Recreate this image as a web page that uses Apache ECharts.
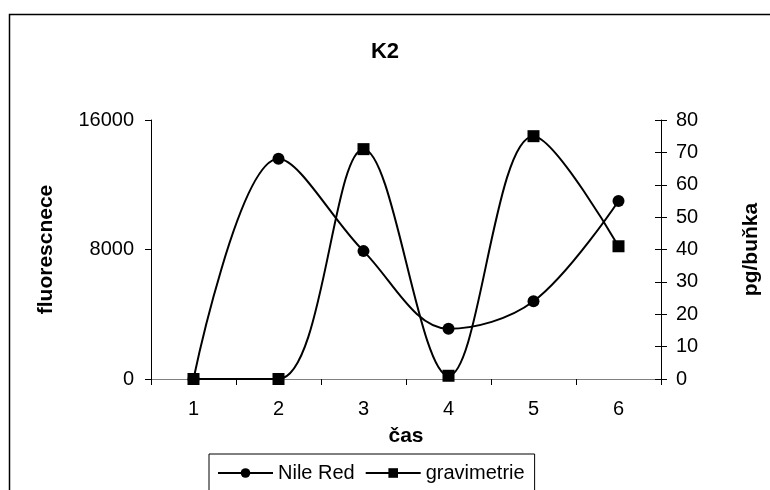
<!DOCTYPE html>
<html>
<head>
<meta charset="utf-8">
<script src="https://cdn.jsdelivr.net/npm/echarts@6/dist/echarts.min.js"></script>
<style>html,body{margin:0;padding:0;background:#fff}#c{width:770px;height:490px}</style>
</head>
<body>
<div id="c"></div>
<script>
var categories = ['1', '2', '3', '4', '5', '6'];
var nileRed = [0, 13600, 7900, 3100, 4800, 11000];
var gravimetrie = [0, 0, 71, 1, 75, 41];
var leftTicks = { min: 0, max: 16000, interval: 8000 };
var rightTicks = { min: 0, max: 80, interval: 10 };

var FONT = 'Liberation Sans, Arial, sans-serif';
var plain = function (v) { return String(v); };
var chart = echarts.init(document.getElementById('c'), null, { renderer: 'canvas' });
chart.setOption({
  animation: false,
  backgroundColor: '#fff',
  textStyle: { fontFamily: FONT, color: '#000' },
  title: {
    text: 'K2', left: 'center', top: 36,
    textStyle: { fontFamily: FONT, fontSize: 22, fontWeight: 'bold', color: '#000' }
  },
  graphic: [{
    type: 'rect', left: 7, top: 12, z: -1,
    shape: { width: 800, height: 520 },
    style: { fill: 'none', stroke: '#000', lineWidth: 1.5 }
  }],
  grid: { left: 151, right: 102, top: 120, bottom: 111, containLabel: false },
  legend: {
    left: 209, top: 454,
    orient: 'horizontal',
    borderColor: '#000', borderWidth: 1,
    padding: [9, 10, 30, 8],
    itemGap: 10, itemWidth: 55, itemHeight: 12,
    textStyle: { fontFamily: FONT, fontSize: 20, color: '#000' },
    data: ['Nile Red', 'gravimetrie']
  },
  xAxis: {
    type: 'category', data: categories, boundaryGap: true,
    name: 'čas', nameLocation: 'middle', nameGap: 47,
    nameTextStyle: { fontFamily: FONT, fontSize: 21, fontWeight: 'bold', color: '#000' },
    axisLine: { lineStyle: { color: '#808080', width: 1 } },
    axisTick: { show: true, length: 6, lineStyle: { color: '#000' } },
    axisLabel: { fontFamily: FONT, fontSize: 20, color: '#000', margin: 20 },
    splitLine: { show: false }
  },
  yAxis: [{
    type: 'value', position: 'left',
    min: leftTicks.min, max: leftTicks.max, interval: leftTicks.interval,
    name: 'fluorescnece', nameLocation: 'middle', nameGap: 94, nameRotate: 90,
    nameTextStyle: { fontFamily: FONT, fontSize: 21, fontWeight: 'bold', color: '#000' },
    axisLine: { show: true, lineStyle: { color: '#000', width: 1 } },
    axisTick: { show: true, length: 6, lineStyle: { color: '#000' } },
    axisLabel: { fontFamily: FONT, fontSize: 20, color: '#000', margin: 17, formatter: plain },
    splitLine: { show: false }
  }, {
    type: 'value', position: 'right',
    min: rightTicks.min, max: rightTicks.max, interval: rightTicks.interval,
    name: 'pg/buňka', nameLocation: 'middle', nameGap: 80, nameRotate: 90,
    nameTextStyle: { fontFamily: FONT, fontSize: 21, fontWeight: 'bold', color: '#000' },
    axisLine: { show: true, lineStyle: { color: '#000', width: 1 } },
    axisTick: { show: true, length: 6, lineStyle: { color: '#000' } },
    axisLabel: { fontFamily: FONT, fontSize: 20, color: '#000', margin: 15, formatter: plain },
    splitLine: { show: false }
  }, {
    type: 'value', position: 'right',
    min: rightTicks.min, max: rightTicks.max, interval: rightTicks.interval,
    axisLine: { show: false },
    axisTick: { show: true, inside: true, length: 6, lineStyle: { color: '#000' } },
    axisLabel: { show: false },
    splitLine: { show: false }
  }],
  series: [{
    name: 'Nile Red', type: 'line', yAxisIndex: 0, data: nileRed,
    smooth: 0.35, clip: false,
    symbol: 'circle', symbolSize: 12,
    lineStyle: { color: '#000', width: 2 },
    itemStyle: { color: '#000' }
  }, {
    name: 'gravimetrie', type: 'line', yAxisIndex: 1, data: gravimetrie,
    smooth: 0.35, clip: false,
    symbol: 'rect', symbolSize: 12,
    lineStyle: { color: '#000', width: 2 },
    itemStyle: { color: '#000' }
  }]
});
</script>
</body>
</html>
